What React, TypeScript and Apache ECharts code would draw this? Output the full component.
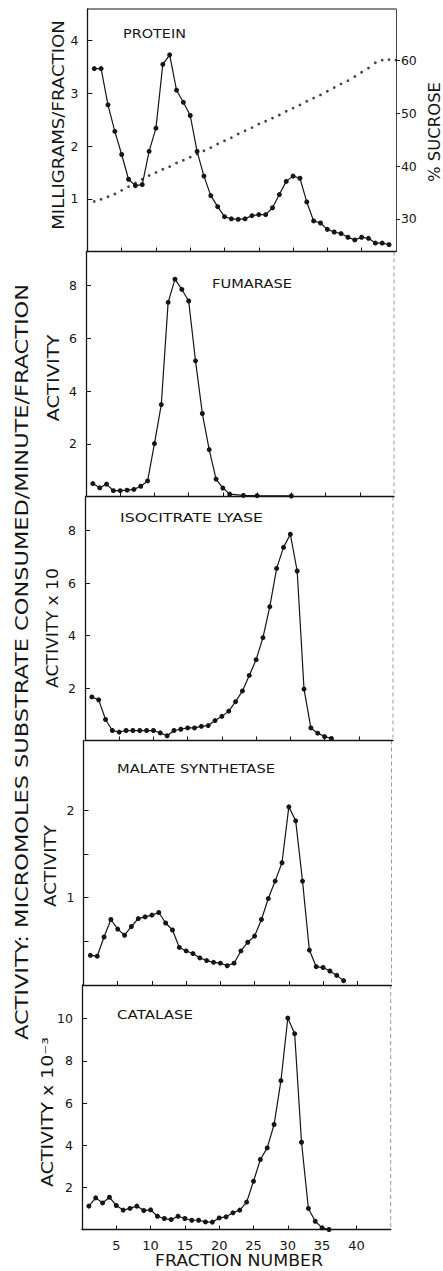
import React, { useEffect, useRef } from "react";
import * as echarts from "echarts";

// ---------- data ----------
const proteinFractions = [1,2,3,4,5,6,7,8,9,10,11,12,13,14,15,16,17,18,19,20,21,22,23,24,25,26,27,28,29,30,31,32,33,34,35,36,37,38,39,40,41,42,43,44];
const protein = [3.47,3.47,2.78,2.28,1.84,1.37,1.25,1.27,1.9,2.34,3.55,3.73,3.06,2.83,2.58,1.9,1.43,1.06,0.85,0.66,0.62,0.61,0.62,0.68,0.7,0.7,0.83,1.08,1.33,1.43,1.39,0.94,0.58,0.54,0.42,0.37,0.34,0.27,0.22,0.27,0.25,0.16,0.16,0.13];

const sucroseFractions = [1,2,3,4,5,6,7,8,9,10,11,12,13,14,15,16,17,18,19,20,21,22,23,24,25,26,27,28,29,30,31,32,33,34,35,36,37,38,39,40,41,42,43,44,45];
const sucrose = [33.3,33.7,34.2,34.7,35.4,36.1,36.8,37.5,38.2,38.8,39.4,39.9,40.6,41.1,41.7,42.3,42.9,43.5,44.2,44.8,45.4,46.1,46.7,47.3,48.0,48.5,49.1,49.7,50.4,51.0,51.6,52.3,52.9,53.5,54.2,54.9,55.6,56.2,57.0,57.8,58.6,59.6,60.1,60.2,60.1];

const fumaraseFractions = [1,2,3,4,5,6,7,8,9,10,11,12,13,14,15,16,17,18,19,20,21,23,25,30];
const fumarase = [0.49,0.33,0.47,0.22,0.22,0.24,0.27,0.39,0.59,2.01,3.49,7.37,8.25,7.86,7.42,5.15,3.15,1.78,0.66,0.32,0.09,0.04,0.03,0.02];

const isocitrateFractions = [1,2,3,4,5,6,7,8,9,10,11,12,13,14,15,16,17,18,19,20,21,22,23,24,25,26,27,28,29,30,31,32,33,34,35,36];
const isocitrateLyase = [1.66,1.55,0.8,0.38,0.32,0.38,0.38,0.38,0.38,0.38,0.29,0.18,0.38,0.43,0.48,0.48,0.54,0.57,0.76,0.92,1.12,1.48,1.89,2.48,3.08,3.92,5.1,6.56,7.36,7.86,6.46,1.96,0.48,0.28,0.15,0.08];

const malateFractions = [1,2,3,4,5,6,7,8,9,10,11,12,13,14,15,16,17,18,19,20,21,22,23,24,25,26,27,28,29,30,31,32,33,34,35,36,37,38];
const malateSynthetase = [0.34,0.33,0.55,0.75,0.64,0.57,0.67,0.76,0.78,0.8,0.83,0.71,0.63,0.43,0.39,0.36,0.31,0.28,0.26,0.25,0.22,0.25,0.39,0.49,0.56,0.75,0.99,1.19,1.4,2.04,1.88,1.19,0.4,0.21,0.2,0.16,0.11,0.05];

const catalaseFractions = [1,2,3,4,5,6,7,8,9,10,11,12,13,14,15,16,17,18,19,20,21,22,23,24,25,26,27,28,29,30,31,32,33,34,35,36];
const catalase = [1.11,1.5,1.26,1.53,1.14,0.92,1.0,1.11,0.9,0.93,0.63,0.52,0.47,0.63,0.52,0.44,0.44,0.36,0.35,0.55,0.6,0.79,0.92,1.3,2.29,3.32,3.87,4.98,7.06,10.03,9.29,4.14,1.0,0.39,0.08,0.0];

const xTicks = [5,10,15,20,25,30,35,40];
const proteinTicks = [1,2,3,4];
const sucroseTicks = [30,40,50,60];
const fumaraseTicks = [2,4,6,8];
const isocitrateTicks = [2,4,6,8];
const malateTicks = [0.5,1,1.5,2];
const malateLabels = [1,2];
const catalaseTicks = [2,4,6,8,10];

const panelTitles = ["PROTEIN", "FUMARASE", "ISOCITRATE LYASE", "MALATE SYNTHETASE", "CATALASE"];

// ---------- layout ----------
const FONT = "DejaVu Sans";
const INK = "#151515";
const grids = [
  { left: 87.4, top: 9, width: 308.5, height: 242.5 },
  { left: 86, top: 251.5, width: 308, height: 245 },
  { left: 85, top: 496.5, width: 308, height: 244 },
  { left: 83.5, top: 740.5, width: 308, height: 244.5 },
  { left: 82, top: 985, width: 308.7, height: 244.5 },
];
const yMax = [4.6, 9.3, 9.3, 2.8, 11.6];

function measure(text: string, size: number): number {
  const ctx = document.createElement("canvas").getContext("2d");
  if (!ctx) return text.length * size * 0.65;
  ctx.font = `${size}px "${FONT}"`;
  return ctx.measureText(text).width;
}

function textEl(text: string, cx: number, cy: number, size: number, length: number, vertical = false) {
  const w = measure(text, size);
  return {
    type: "text",
    x: cx,
    y: cy,
    rotation: vertical ? Math.PI / 2 : 0,
    scaleX: length / w,
    silent: true,
    style: {
      text,
      fontSize: size,
      fontFamily: FONT,
      fill: INK,
      align: "center",
      verticalAlign: "middle",
    },
  };
}

function pairs(xs: number[], ys: number[]) {
  return xs.map((x, i) => [x, ys[i]]);
}

export default function App() {
  const ref = useRef<HTMLDivElement>(null);
  useEffect(() => {
    if (!ref.current) return;
    const chart = echarts.init(ref.current, undefined, { renderer: "svg" });

    const xAxes = grids.map((_, i) => ({
      type: "value",
      gridIndex: i,
      min: 0,
      max: 45,
      splitLine: { show: false },
      axisLine: { show: true, onZero: false, lineStyle: { color: INK, width: 1.3 } },
      axisTick: { show: true, inside: true, length: 4, customValues: xTicks, lineStyle: { color: INK, width: 1 } },
      axisLabel: i === 4
        ? { show: true, customValues: xTicks, fontFamily: FONT, fontSize: 13, color: INK, margin: 9 }
        : { show: false },
    }));

    const yTickSets = [proteinTicks, fumaraseTicks, isocitrateTicks, malateTicks, catalaseTicks];
    const yLabelSets = [proteinTicks, fumaraseTicks, isocitrateTicks, malateLabels, catalaseTicks];
    const yAxes: any[] = grids.map((_, i) => ({
      type: "value",
      gridIndex: i,
      min: 0,
      max: yMax[i],
      splitLine: { show: false },
      axisLine: { show: true, onZero: false, lineStyle: { color: INK, width: 1.3 } },
      axisTick: { show: true, inside: true, length: 5, customValues: yTickSets[i], lineStyle: { color: INK, width: 1 } },
      axisLabel: { show: true, customValues: yLabelSets[i], fontFamily: FONT, fontSize: 12.5, color: INK, margin: 9 },
    }));
    yAxes.push({
      type: "value",
      gridIndex: 0,
      position: "right",
      min: 23.8,
      max: 69.8,
      splitLine: { show: false },
      axisLine: { show: true, onZero: false, lineStyle: { color: "#444", width: 1 } },
      axisTick: { show: true, inside: false, length: 4, customValues: sucroseTicks, lineStyle: { color: INK, width: 1 } },
      axisLabel: { show: true, customValues: sucroseTicks, fontFamily: FONT, fontSize: 12.5, color: INK, margin: 5 },
    });

    const lineSeries = (name: string, idx: number, data: number[][]) => ({
      name,
      type: "line",
      xAxisIndex: idx,
      yAxisIndex: idx,
      data,
      symbol: "circle",
      symbolSize: 5,
      showSymbol: true,
      itemStyle: { color: INK },
      lineStyle: { color: INK, width: 1.2 },
      silent: true,
    });

    const graphics: any[] = [];
    // top border of first panel
    graphics.push({
      type: "line",
      shape: { x1: grids[0].left, y1: grids[0].top, x2: grids[0].left + grids[0].width, y2: grids[0].top },
      style: { stroke: INK, lineWidth: 1.2 },
      silent: true,
    });
    // faint dashed right borders of lower panels
    for (let i = 1; i < 5; i++) {
      const g = grids[i];
      graphics.push({
        type: "line",
        shape: { x1: g.left + g.width, y1: g.top, x2: g.left + g.width, y2: g.top + g.height },
        style: { stroke: "#9a9a9a", lineWidth: 1, lineDash: [4, 3] },
        silent: true,
      });
    }
    // panel titles
    graphics.push(textEl(panelTitles[0], 123 + 63 / 2, 33, 12.5, 63));
    graphics.push(textEl(panelTitles[1], 212 + 80 / 2, 283, 12.5, 80));
    graphics.push(textEl(panelTitles[2], 120 + 143 / 2, 518, 12.5, 143));
    graphics.push(textEl(panelTitles[3], 117 + 158 / 2, 768, 12.5, 158));
    graphics.push(textEl(panelTitles[4], 117 + 76 / 2, 1014, 12.5, 76));
    // axis titles
    graphics.push(textEl("MILLIGRAMS/FRACTION", 58, 125, 16, 210, true));
    graphics.push(textEl("% SUCROSE", 435, 132, 16, 100, true));
    graphics.push(textEl("ACTIVITY", 53, 378, 16, 87, true));
    graphics.push(textEl("ACTIVITY x 10", 53, 628, 16, 120, true));
    graphics.push(textEl("ACTIVITY", 50, 866, 16, 82, true));
    graphics.push(textEl("ACTIVITY x 10\u207B\u00B3", 48, 1112, 16, 150, true));
    graphics.push(textEl("ACTIVITY: MICROMOLES SUBSTRATE CONSUMED/MINUTE/FRACTION", 22, 662, 17, 757, true));
    graphics.push(textEl("FRACTION NUMBER", 239, 1261, 16, 168));

    chart.setOption({
      animation: false,
      backgroundColor: "#ffffff",
      textStyle: { fontFamily: FONT },
      grid: grids.map((g) => ({ ...g, containLabel: false })),
      xAxis: xAxes,
      yAxis: yAxes,
      series: [
        lineSeries("Protein", 0, pairs(proteinFractions, protein)),
        {
          name: "% Sucrose",
          type: "scatter",
          xAxisIndex: 0,
          yAxisIndex: 5,
          data: pairs(sucroseFractions, sucrose),
          symbol: "circle",
          symbolSize: 2.8,
          itemStyle: { color: INK },
          silent: true,
        },
        lineSeries("Fumarase", 1, pairs(fumaraseFractions, fumarase)),
        lineSeries("Isocitrate lyase", 2, pairs(isocitrateFractions, isocitrateLyase)),
        lineSeries("Malate synthetase", 3, pairs(malateFractions, malateSynthetase)),
        lineSeries("Catalase", 4, pairs(catalaseFractions, catalase)),
      ],
      graphic: graphics,
    });
    return () => chart.dispose();
  }, []);

  return (
    <div
      ref={ref}
      style={{ position: "absolute", left: 0, top: 0, width: 443, height: 1271, background: "#fff" }}
    />
  );
}
